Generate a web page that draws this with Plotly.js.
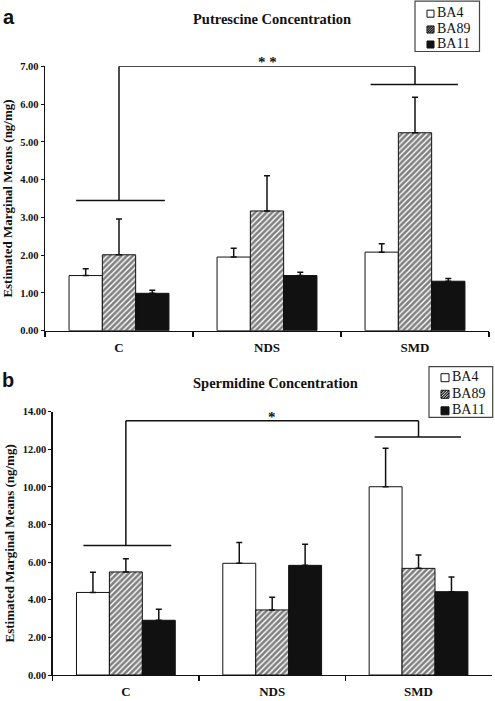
<!DOCTYPE html>
<html>
<head>
<meta charset="utf-8">
<script src="https://cdn.plot.ly/plotly-3.0.1.min.js"></script>
<style>html,body{margin:0;padding:0;background:#fff;}#chart{width:495px;height:701px;}</style>
</head>
<body>
<div id="chart"></div>
<script>
// ---- data ----
const categories = ['C', 'NDS', 'SMD'];
const seriesNames = ['BA4', 'BA89', 'BA11'];

// Putrescine (panel a)
const putBA4 = [1.46, 1.95, 2.08];
const putBA4Err = [0.18, 0.23, 0.22];
const putBA89 = [2.01, 3.17, 5.24];
const putBA89Err = [0.95, 0.93, 0.94];
const putBA11 = [0.99, 1.46, 1.31];
const putBA11Err = [0.08, 0.09, 0.07];

// Spermidine (panel b)
const spdBA4 = [4.39, 5.94, 10.01];
const spdBA4Err = [1.07, 1.11, 2.04];
const spdBA89 = [5.48, 3.46, 5.67];
const spdBA89Err = [0.70, 0.67, 0.71];
const spdBA11 = [2.91, 5.83, 4.43];
const spdBA11Err = [0.58, 1.12, 0.78];

// significance brackets: [top level, C bar level, SMD bar level]
const putBracket = [7.0, 3.45, 6.52];
const spdBracket = [13.52, 6.89, 12.65];
const putStars = '* *';
const spdStars = '*';

const yTicksA = [0, 1, 2, 3, 4, 5, 6, 7];
const yTicksB = [0, 2, 4, 6, 8, 10, 12, 14];

// ---- styling ----
const SERIF = 'Liberation Serif, Times New Roman, serif';
const INK = '#111';
const W = 495, H = 701;
const px = v => v / W;          // pixel x -> paper
const py = v => 1 - v / H;      // pixel y -> paper

const styles = [
  {color: '#fff', pattern: {shape: ''}},
  {color: '#fff', pattern: {shape: '/', fgcolor: '#000', bgcolor: '#fff', size: 4, solidity: 0.65, fillmode: 'overlay'}},
  {color: INK, pattern: {shape: ''}}
];

function bar(name, y, err, i, xa, ya) {
  return {
    type: 'bar', name: name, x: categories, y: y, xaxis: xa, yaxis: ya,
    showlegend: false,
    marker: {color: styles[i].color, pattern: styles[i].pattern, line: {color: INK, width: 1}},
    error_y: {type: 'data', symmetric: false, array: err, arrayminus: err.map(() => 0),
              color: INK, thickness: 1.5, width: 3},
    hoverinfo: 'y'
  };
}

const data = [
  bar(seriesNames[0], putBA4, putBA4Err, 0, 'x', 'y'),
  bar(seriesNames[1], putBA89, putBA89Err, 1, 'x', 'y'),
  bar(seriesNames[2], putBA11, putBA11Err, 2, 'x', 'y'),
  bar(seriesNames[0], spdBA4, spdBA4Err, 0, 'x2', 'y2'),
  bar(seriesNames[1], spdBA89, spdBA89Err, 1, 'x2', 'y2'),
  bar(seriesNames[2], spdBA11, spdBA11Err, 2, 'x2', 'y2')
];

function bracketShapes(lv, xa, ya) {
  const L = {color: INK, width: 1.5};
  const base = {type: 'line', xref: xa, yref: ya, line: L};
  return [
    Object.assign({x0: 0, x1: 2, y0: lv[0], y1: lv[0]}, base),
    Object.assign({x0: 0, x1: 0, y0: lv[0], y1: lv[1]}, base),
    Object.assign({x0: 2, x1: 2, y0: lv[0], y1: lv[2]}, base),
    Object.assign({x0: -0.29, x1: 0.31, y0: lv[1], y1: lv[1]}, base),
    Object.assign({x0: 1.70, x1: 2.29, y0: lv[2], y1: lv[2]}, base)
  ];
}

// manual legend (box, swatches, labels) in pixel geometry
function legendParts(box, swX, sw, textX, rowsY, fontSize) {
  const shapes = [{type: 'rect', xref: 'paper', yref: 'paper',
    x0: px(box[0]), x1: px(box[1]), y0: py(box[2]), y1: py(box[3]),
    line: {color: '#444', width: 1.2}, fillcolor: '#fff'}];
  const anns = [];
  rowsY.forEach((cy, i) => {
    const x0 = swX, x1 = swX + sw, yt = cy - sw / 2 + 1, yb = cy + sw / 2 + 1;
    shapes.push({type: 'rect', xref: 'paper', yref: 'paper',
      x0: px(x0), x1: px(x1), y0: py(yb), y1: py(yt),
      line: {color: INK, width: 1}, fillcolor: i === 2 ? INK : '#fff'});
    if (i === 1) {
      const p = [];
      const step = sw / 3;
      for (let k = -2; k <= 2; k++) {
        let ax = x0 + k * step, ay = yb, bx = ax + sw, by = yt;
        if (ax < x0) { ay = yb - (x0 - ax); ax = x0; }
        if (bx > x1) { by = yt + (bx - x1); bx = x1; }
        if (ax >= x1 || bx <= x0) continue;
        p.push('M' + px(ax) + ',' + py(ay) + 'L' + px(bx) + ',' + py(by));
      }
      shapes.push({type: 'path', xref: 'paper', yref: 'paper', path: p.join(''),
        line: {color: INK, width: 1.2}});
    }
    anns.push({text: seriesNames[i], xref: 'paper', yref: 'paper', x: px(textX), y: py(cy),
      xanchor: 'left', yanchor: 'middle', showarrow: false,
      font: {family: SERIF, size: fontSize, color: INK}});
  });
  return {shapes, anns};
}

function xAxis(domain, anchor) {
  return {
    domain: domain, anchor: anchor, type: 'category',
    range: [-0.5, 2.5],
    showline: true, linecolor: INK, linewidth: 1.3,
    ticks: 'outside', tickson: 'boundaries', ticklen: 5, tickcolor: INK, tickwidth: 1.2,
    showgrid: false, zeroline: false,
    tickfont: {family: SERIF, size: 13, color: INK, weight: 'bold'},
    ticklabelstandoff: 4
  };
}

function yAxis(domain, anchor, range, ticks) {
  return {
    domain: domain, anchor: anchor, range: range,
    tickvals: ticks, ticktext: ticks.map(v => v.toFixed(2)),
    showline: true, linecolor: INK, linewidth: 1.3,
    ticks: 'outside', ticklen: 3, tickcolor: INK, tickwidth: 1,
    showgrid: false, zeroline: false,
    tickfont: {family: SERIF, size: 10.5, color: INK, weight: 'bold'},
    title: {text: 'Estimated Marginal Means (ng/mg)', font: {family: SERIF, size: 13, color: INK, weight: 'bold'}, standoff: 5}
  };
}

const legA = legendParts([415, 479.5, 1.2, 51.5], 427, 7, 435, [12.7, 28.5, 43.5], 14);
const legB = legendParts([429, 492.7, 366.7, 417.3], 441, 8, 450, [376.7, 393.3, 409.8], 14);

const layout = {
  width: W, height: H,
  margin: {l: 0, r: 0, t: 0, b: 0},
  paper_bgcolor: '#fff', plot_bgcolor: '#fff',
  barmode: 'group', bargap: 0.325, bargroupgap: 0,
  showlegend: false,
  xaxis: xAxis([px(45), px(489)], 'y'),
  yaxis: yAxis([py(330.7), py(66.3)], 'x', [0, 7], yTicksA),
  xaxis2: xAxis([px(52.7), px(491.7)], 'y2'),
  yaxis2: yAxis([py(675), py(411.7)], 'x2', [0, 14], yTicksB),
  shapes: bracketShapes(putBracket, 'x', 'y')
    .concat(bracketShapes(spdBracket, 'x2', 'y2'))
    .concat(legA.shapes).concat(legB.shapes),
  annotations: [
    {text: 'Putrescine Concentration', xref: 'paper', yref: 'paper', x: px(272), y: py(19.3),
     xanchor: 'center', yanchor: 'middle', showarrow: false,
     font: {family: SERIF, size: 14.5, color: INK, weight: 'bold'}},
    {text: 'Spermidine Concentration', xref: 'paper', yref: 'paper', x: px(275.7), y: py(382.7),
     xanchor: 'center', yanchor: 'middle', showarrow: false,
     font: {family: SERIF, size: 14.5, color: INK, weight: 'bold'}},
    {text: 'a', xref: 'paper', yref: 'paper', x: px(1), y: py(17),
     xanchor: 'left', yanchor: 'middle', showarrow: false,
     font: {family: 'Liberation Sans, Arial, sans-serif', size: 20, color: INK, weight: 'bold'}},
    {text: 'b', xref: 'paper', yref: 'paper', x: px(0), y: py(380),
     xanchor: 'left', yanchor: 'middle', showarrow: false,
     font: {family: 'Liberation Sans, Arial, sans-serif', size: 20, color: INK, weight: 'bold'}},
    {text: putStars, xref: 'x', yref: 'y', x: 1, y: putBracket[0],
     xanchor: 'center', yanchor: 'bottom', yshift: -6, showarrow: false,
     font: {family: SERIF, size: 15, color: INK, weight: 'bold'}},
    {text: spdStars, xref: 'x2', yref: 'y2', x: 1, y: spdBracket[0],
     xanchor: 'center', yanchor: 'bottom', yshift: -6, showarrow: false,
     font: {family: SERIF, size: 15, color: INK, weight: 'bold'}}
  ].concat(legA.anns).concat(legB.anns)
};

Plotly.newPlot('chart', data, layout, {staticPlot: true, displayModeBar: false});
</script>
</body>
</html>
